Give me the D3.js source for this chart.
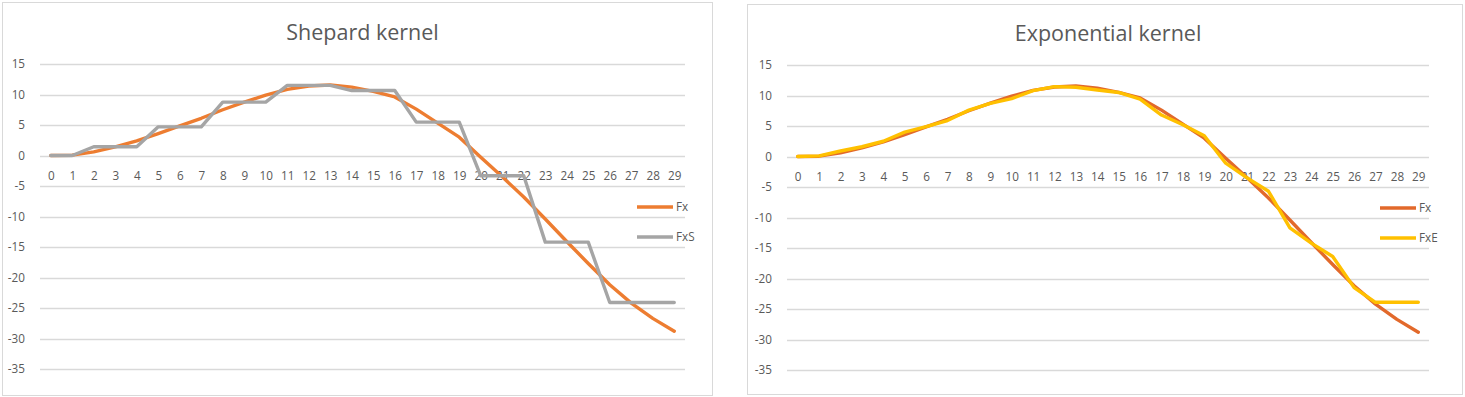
<!DOCTYPE html>
<html>
<head>
<meta charset="utf-8">
<script src="https://cdn.jsdelivr.net/npm/d3@7"></script>
<style>
  body { margin: 0; background: #fff; }
  text { font-family: "Open Sans", sans-serif; fill: #595959; }
</style>
</head>
<body>
<script>
// DATA
let categories = [0, 1, 2, 3, 4, 5, 6, 7, 8, 9, 10, 11, 12, 13, 14, 15, 16, 17, 18, 19, 20, 21, 22, 23, 24, 25, 26, 27, 28, 29];
let fx  = [0, 0.05, 0.6, 1.4, 2.4, 3.6, 4.85, 6.1, 7.5, 8.75, 9.9, 10.85, 11.4, 11.55, 11.2, 10.5, 9.6, 7.6, 5.3, 3.0,
           -0.3, -3.5, -6.8, -10.4, -14.1, -17.7, -21.2, -24.2, -26.7, -28.8];
let fxS = [0, 0, 1.43, 1.43, 1.43, 4.7, 4.7, 4.7, 8.75, 8.75, 8.75, 11.5, 11.5, 11.5, 10.65, 10.65, 10.65, 5.47, 5.47, 5.47,
           -3.33, -3.33, -3.33, -14.2, -14.2, -14.2, -24.1, -24.1, -24.1, -24.1];
let fxE = [0, 0.1, 0.9, 1.6, 2.5, 4.0, 4.9, 5.9, 7.6, 8.7, 9.5, 10.8, 11.45, 11.35, 10.9, 10.5, 9.4, 6.8, 5.2, 3.4,
           -1.1, -3.5, -5.7, -11.7, -14.2, -16.4, -21.5, -23.9, -23.9, -23.9];
let yTicks = [15, 10, 5, 0, -5, -10, -15, -20, -25, -30, -35];

let svg = d3.select('body').append('svg')
    .attr('width', 1465)
    .attr('height', 397);

// one Excel-style line chart
function drawChart(o) {
    let g = svg.append('g');

    // chart border
    g.append('rect')
        .attr('x', o.box[0] + 0.5).attr('y', o.box[1] + 0.5)
        .attr('width', o.box[2]).attr('height', o.box[3])
        .attr('fill', '#fff').attr('stroke', '#d9d9d9');

    let x = d3.scalePoint().domain(categories).range([o.left, o.right]).padding(0.5);
    let y = d3.scaleLinear().domain([-35, 15]).range([o.bottom, o.top]);

    // gridlines
    g.selectAll('.grid').data(yTicks).enter().append('line')
        .attr('x1', o.left).attr('x2', o.right)
        .attr('y1', d => Math.round(y(d)) + 0.5).attr('y2', d => Math.round(y(d)) + 0.5)
        .attr('stroke', '#d9d9d9').attr('stroke-width', 1.3);

    // value axis labels
    let yAxis = g.append('g')
        .attr('transform', 'translate(' + o.left + ',0)')
        .call(d3.axisLeft(y).tickValues(yTicks).tickSize(0).tickPadding(15).tickFormat(d => String(d)));
    yAxis.select('.domain').remove();
    yAxis.selectAll('text').style('font-size', '11.7px').style('font-family', '"Open Sans", sans-serif').attr('fill', '#595959');

    // category labels, sitting next to the zero line
    let xAxis = g.append('g')
        .attr('transform', 'translate(0,' + y(0) + ')')
        .call(d3.axisBottom(x).tickSize(0).tickPadding(16));
    xAxis.select('.domain').remove();
    xAxis.selectAll('text').style('font-size', '11.7px').style('font-family', '"Open Sans", sans-serif').attr('fill', '#595959');

    // title
    g.append('text')
        .attr('x', (o.left + o.right) / 2)
        .attr('y', o.titleY)
        .attr('text-anchor', 'middle')
        .style('font-size', '21.5px')
        .text(o.title);

    let line = d3.line()
        .x((d, i) => x(categories[i]))
        .y(d => y(d));

    o.series.forEach(s => {
        g.append('path')
            .datum(s.values)
            .attr('d', line)
            .attr('fill', 'none')
            .attr('stroke', s.color)
            .attr('stroke-width', 3.4)
            .attr('stroke-linejoin', 'round')
            .attr('stroke-linecap', 'round');
    });

    // legend
    let leg = g.selectAll('.leg').data(o.series).enter().append('g')
        .attr('transform', (d, i) => 'translate(' + o.legX + ',' + (o.legY + i * 30) + ')');
    leg.append('line')
        .attr('x1', 0).attr('x2', 36)
        .attr('stroke', d => d.color).attr('stroke-width', 3.4);
    leg.append('text')
        .attr('x', 39).attr('dy', '0.35em')
        .style('font-size', '11.7px')
        .text(d => d.name);
}

drawChart({
    box: [2, 2, 710, 393],
    left: 40, right: 685, top: 64, bottom: 369,
    title: 'Shepard kernel', titleY: 40,
    legX: 637, legY: 207,
    series: [
        { name: 'Fx', values: fx, color: '#ed7d31' },
        { name: 'FxS', values: fxS, color: '#a5a5a5' }
    ]
});

drawChart({
    box: [747, 4, 715, 390],
    left: 787, right: 1429, top: 65, bottom: 370,
    title: 'Exponential kernel', titleY: 41,
    legX: 1380, legY: 208,
    series: [
        { name: 'Fx', values: fx, color: '#e2692b' },
        { name: 'FxE', values: fxE, color: '#ffc000' }
    ]
});
</script>
</body>
</html>
